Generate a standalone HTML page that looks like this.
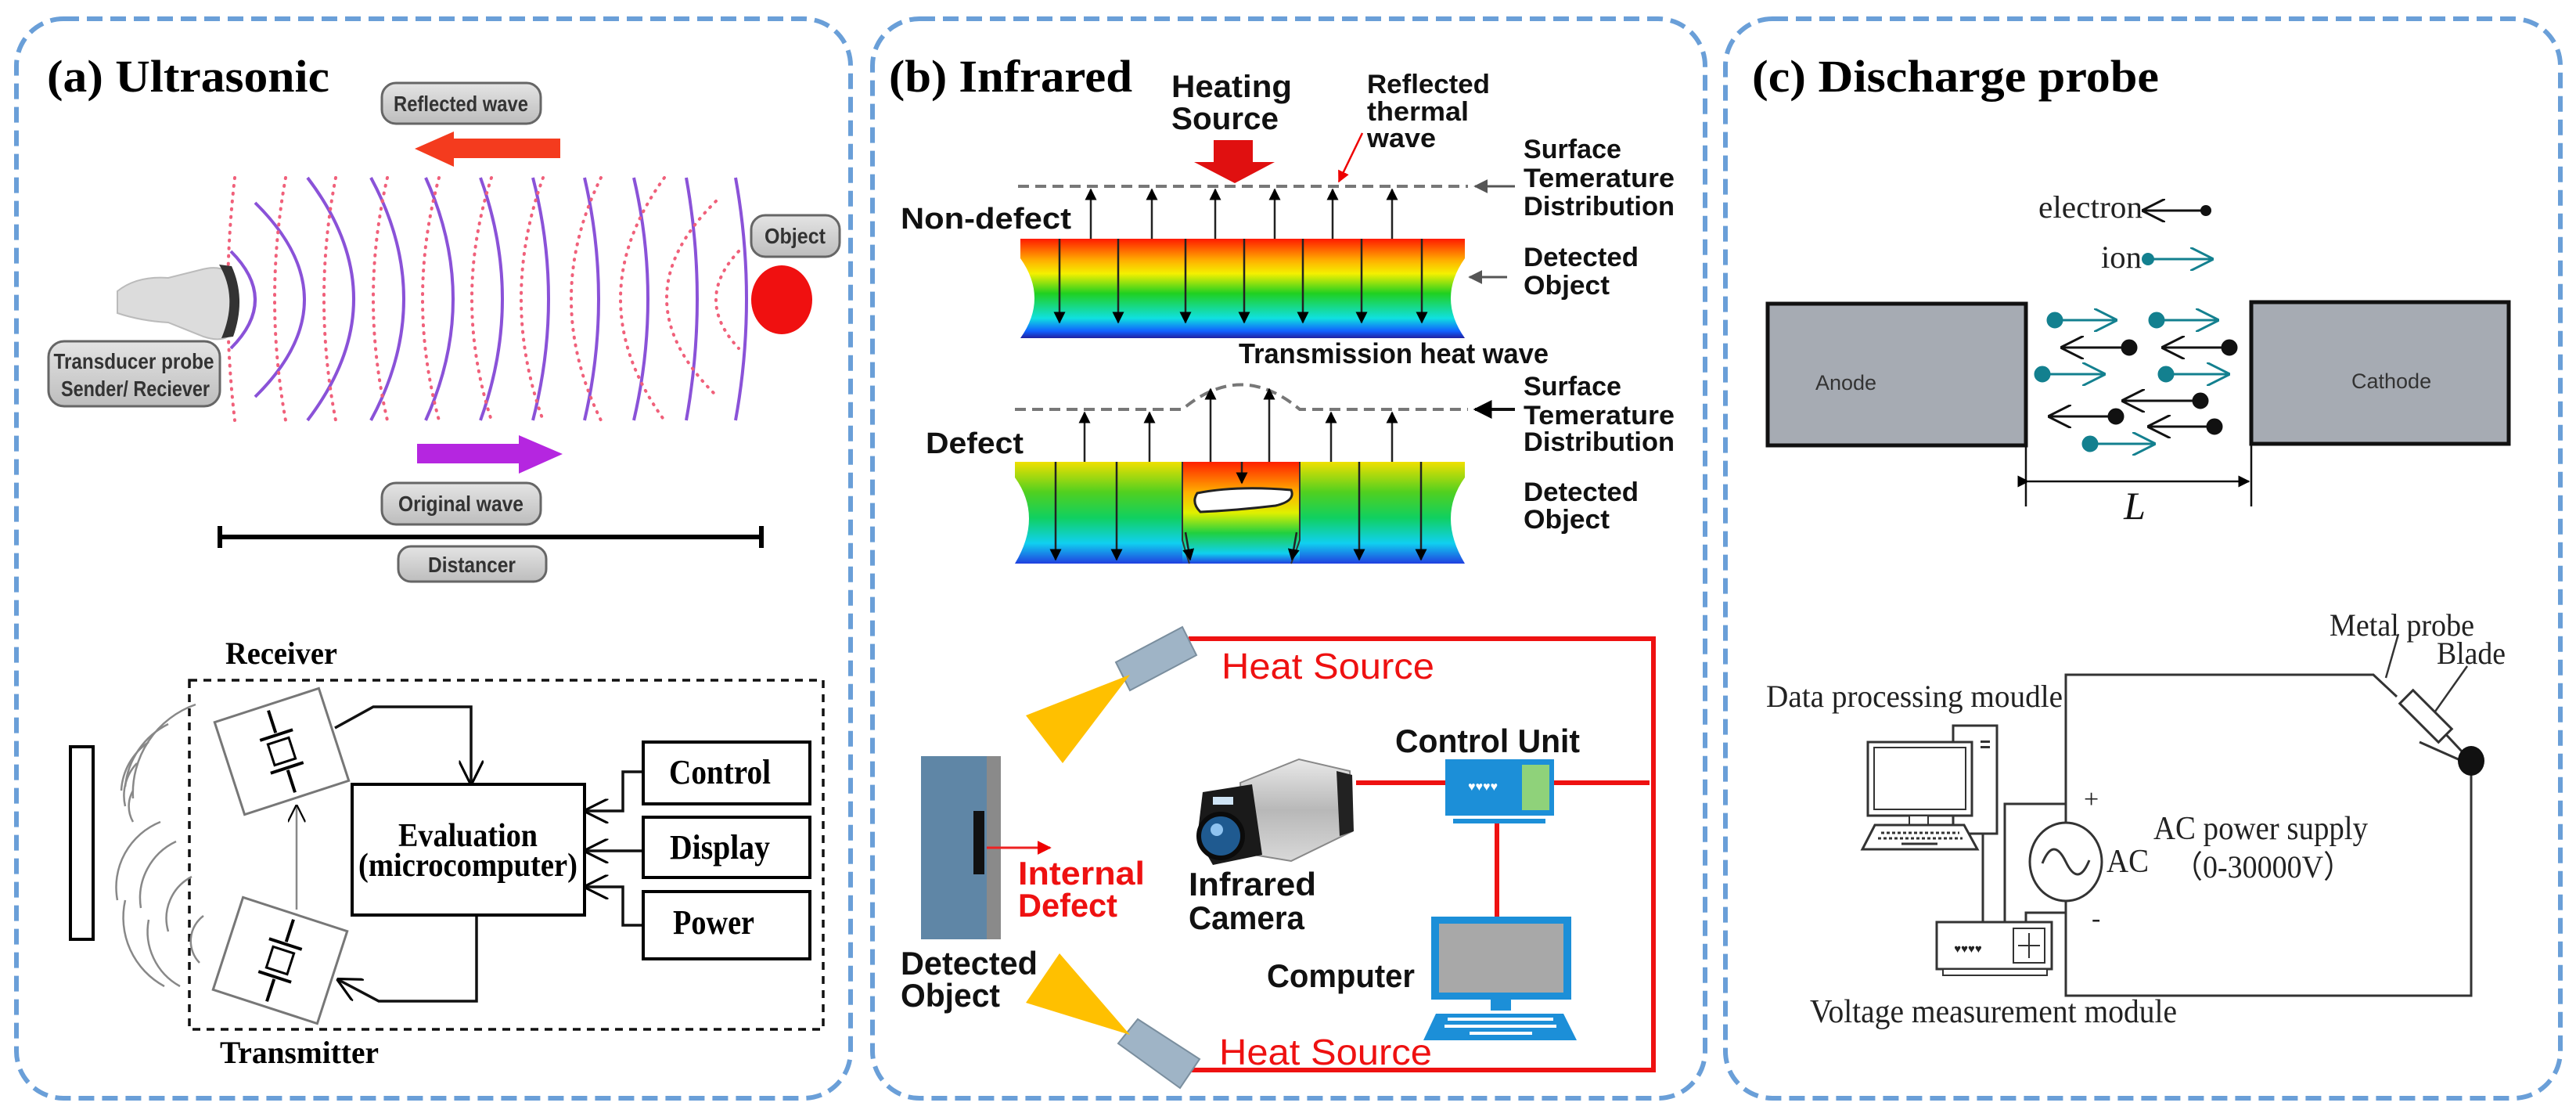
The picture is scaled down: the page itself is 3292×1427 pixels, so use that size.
<!DOCTYPE html>
<html><head><meta charset="utf-8"><style>
html,body{margin:0;padding:0;background:#fff;}
svg{display:block;}
.ser{font-family:"Liberation Serif",serif;}
.san{font-family:"Liberation Sans",sans-serif;}
</style></head><body>
<svg width="3292" height="1427" viewBox="0 0 3292 1427" xmlns="http://www.w3.org/2000/svg">
<defs>
<linearGradient id="g1" x1="0" y1="0" x2="0" y2="1">
<stop offset="0" stop-color="#ff1a00"/><stop offset="0.22" stop-color="#ffb000"/><stop offset="0.35" stop-color="#f5f000"/><stop offset="0.55" stop-color="#20d020"/><stop offset="0.8" stop-color="#10e0e0"/><stop offset="0.93" stop-color="#1060ff"/><stop offset="1" stop-color="#2020a0"/>
</linearGradient>
<linearGradient id="g2" x1="0" y1="0" x2="0" y2="1">
<stop offset="0" stop-color="#f0e000"/><stop offset="0.3" stop-color="#50d020"/><stop offset="0.55" stop-color="#10d060"/><stop offset="0.8" stop-color="#10d0f0"/><stop offset="1" stop-color="#2040e0"/>
</linearGradient>
<linearGradient id="g3" x1="0" y1="0" x2="0" y2="1">
<stop offset="0" stop-color="#ff2000"/><stop offset="0.3" stop-color="#ffb000"/><stop offset="0.5" stop-color="#e0f000"/><stop offset="0.7" stop-color="#20d040"/><stop offset="0.9" stop-color="#10d0f0"/><stop offset="1" stop-color="#2040e0"/>
</linearGradient>
<linearGradient id="pill" x1="0" y1="0" x2="0" y2="1"><stop offset="0" stop-color="#e4e4e4"/><stop offset="1" stop-color="#bdbdbd"/></linearGradient>
<linearGradient id="silver" x1="0" y1="0" x2="0" y2="1"><stop offset="0" stop-color="#e8e8e8"/><stop offset="0.5" stop-color="#b8b8b8"/><stop offset="1" stop-color="#d8d8d8"/></linearGradient>
<marker id="ah" viewBox="0 0 10 10" refX="9" refY="5" markerWidth="6" markerHeight="6" orient="auto"><path d="M0,0 L10,5 L0,10 z" fill="#000"/></marker>
<marker id="ahg" viewBox="0 0 10 10" refX="9" refY="5" markerWidth="6" markerHeight="6" orient="auto"><path d="M0,0 L10,5 L0,10 z" fill="#555"/></marker>
<marker id="ahr" viewBox="0 0 10 10" refX="9" refY="5" markerWidth="6" markerHeight="6" orient="auto"><path d="M0,0 L10,5 L0,10 z" fill="#e00"/></marker>
<marker id="av" viewBox="0 0 10 10" refX="9" refY="5" markerWidth="9" markerHeight="9" orient="auto"><path d="M0,0 L10,5 L0,10" fill="none" stroke="#000" stroke-width="1"/></marker>
<marker id="avt" viewBox="0 0 10 10" refX="9" refY="5" markerWidth="10" markerHeight="10" orient="auto"><path d="M0,0 L10,5 L0,10" fill="none" stroke="#13808f" stroke-width="1"/></marker>
<marker id="avb" viewBox="0 0 10 10" refX="9" refY="5" markerWidth="10" markerHeight="10" orient="auto"><path d="M0,0 L10,5 L0,10" fill="none" stroke="#111" stroke-width="1"/></marker>
</defs>

<g fill="none" stroke="#6a9fd8" stroke-width="6" stroke-dasharray="20 10">
<rect x="21" y="24" width="1066" height="1379" rx="60"/>
<rect x="1115" y="24" width="1064" height="1379" rx="60"/>
<rect x="2205" y="24" width="1067" height="1379" rx="60"/>
</g>

<!-- ===== Panel A ===== -->
<text x="60" y="117" class="ser" font-size="58" font-weight="bold" textLength="361" lengthAdjust="spacingAndGlyphs">(a) Ultrasonic</text>

<rect x="488" y="106" width="203" height="52" rx="18" fill="url(#pill)" stroke="#666" stroke-width="3"/>
<text x="589" y="142" class="san" font-size="28" font-weight="bold" fill="#333" text-anchor="middle" textLength="172" lengthAdjust="spacingAndGlyphs">Reflected wave</text>
<path d="M716,177 L580,177 L580,168 L530,190 L580,213 L580,202 L716,202 Z" fill="#f43b1e"/>

<g fill="none" stroke="#8a52d8" stroke-width="4">
<path d="M295,321 Q357,383 295,445"/>
<path d="M326,259 Q452,383 326,507"/>
<path d="M393,227 Q511,382 393,537"/>
<path d="M474,227 Q558,382 474,537"/>
<path d="M544,227 Q614,382 544,537"/>
<path d="M614,227 Q670,382 614,537"/>
<path d="M681,227 Q721,382 681,537"/>
<path d="M747,227 Q783,382 747,537"/>
<path d="M810,227 Q846,382 810,537"/>
<path d="M877,227 Q905,382 877,537"/>
<path d="M940,227 Q968,382 940,537"/>
</g>
<g fill="none" stroke="#f0607a" stroke-width="4" stroke-dasharray="1 9" stroke-linecap="round">
<path d="M300,227 Q282,382 300,537"/>
<path d="M365,227 Q337,382 365,537"/>
<path d="M429,227 Q399,382 429,537"/>
<path d="M495,227 Q459,382 495,537"/>
<path d="M561,227 Q519,382 561,537"/>
<path d="M628,227 Q578,382 628,537"/>
<path d="M694,227 Q638,382 694,537"/>
<path d="M768,227 Q692,382 768,537"/>
<path d="M849,227 Q737,382 849,537"/>
<path d="M915,257 Q789,381 915,505"/>
<path d="M944,321 Q886,383 944,445"/>
</g>
<path d="M150,372 Q175,352 215,355 L255,345 Q290,335 300,360 L300,420 Q290,440 260,430 L215,412 Q180,410 150,400 Z" fill="#dcdcdc" stroke="#bbb" stroke-width="2"/>
<path d="M280,338 Q305,380 283,432 L298,430 Q315,382 296,340 Z" fill="#333"/>
<rect x="62" y="436" width="219" height="83" rx="20" fill="url(#pill)" stroke="#666" stroke-width="3"/>
<text x="171" y="471" class="san" font-size="28" font-weight="bold" fill="#333" text-anchor="middle" textLength="205" lengthAdjust="spacingAndGlyphs">Transducer probe</text>
<text x="173" y="506" class="san" font-size="28" font-weight="bold" fill="#333" text-anchor="middle" textLength="190" lengthAdjust="spacingAndGlyphs">Sender/ Reciever</text>
<rect x="960" y="275" width="113" height="53" rx="18" fill="url(#pill)" stroke="#666" stroke-width="3"/>
<text x="1016" y="311" class="san" font-size="28" font-weight="bold" fill="#333" text-anchor="middle" textLength="78" lengthAdjust="spacingAndGlyphs">Object</text>
<ellipse cx="999" cy="383" rx="39" ry="44" fill="#f01010"/>
<path d="M533,567 L663,567 L663,556 L719,580 L663,605 L663,592 L533,592 Z" fill="#b526e0"/>
<rect x="488" y="617" width="203" height="53" rx="18" fill="url(#pill)" stroke="#666" stroke-width="3"/>
<text x="589" y="653" class="san" font-size="28" font-weight="bold" fill="#333" text-anchor="middle" textLength="160" lengthAdjust="spacingAndGlyphs">Original wave</text>
<g stroke="#000" stroke-width="6"><line x1="279" y1="686" x2="975" y2="686"/><line x1="281" y1="672" x2="281" y2="700"/><line x1="973" y1="672" x2="973" y2="700"/></g>
<rect x="509" y="698" width="189" height="45" rx="16" fill="url(#pill)" stroke="#666" stroke-width="3"/>
<text x="603" y="731" class="san" font-size="28" font-weight="bold" fill="#333" text-anchor="middle" textLength="112" lengthAdjust="spacingAndGlyphs">Distancer</text>

<text x="288" y="848" class="ser" font-size="40" font-weight="bold" textLength="143" lengthAdjust="spacingAndGlyphs">Receiver</text>
<rect x="242" y="869" width="810" height="446" fill="none" stroke="#111" stroke-width="3.5" stroke-dasharray="10 8"/>
<rect x="90" y="954" width="29" height="246" fill="#fff" stroke="#000" stroke-width="4"/>
<g fill="none" stroke="#888" stroke-width="2.5">
<path d="M250,900 A120,120 0 0 0 170,1020"/>
<path d="M215,925 A100,100 0 0 0 160,1005"/>
<path d="M190,948 A80,80 0 0 0 155,1010"/>
<path d="M175,975 A60,60 0 0 0 160,1030"/>
<path d="M170,1010 A40,40 0 0 0 170,1050"/>
<path d="M205,1050 A90,90 0 0 0 150,1150"/>
<path d="M225,1075 A80,80 0 0 0 180,1160"/>
<path d="M245,1120 A60,60 0 0 0 215,1190"/>
<path d="M160,1150 A100,100 0 0 0 210,1260"/>
<path d="M190,1175 A80,80 0 0 0 230,1260"/>
<path d="M260,1170 A40,40 0 0 0 255,1230"/>
</g>
<g transform="translate(360,960) rotate(-18)">
<rect x="-70" y="-62" width="140" height="124" fill="#fff" stroke="#777" stroke-width="3"/>
<g stroke="#000" stroke-width="4" fill="none"><line x1="0" y1="-55" x2="0" y2="-25"/><line x1="-22" y1="-22" x2="22" y2="-22"/><rect x="-14" y="-14" width="28" height="28" stroke-width="3"/><line x1="-22" y1="22" x2="22" y2="22"/><line x1="0" y1="25" x2="0" y2="55"/></g>
</g>
<g transform="translate(358,1227) rotate(18)">
<rect x="-70" y="-62" width="140" height="124" fill="#fff" stroke="#777" stroke-width="3"/>
<g stroke="#000" stroke-width="4" fill="none"><line x1="0" y1="-55" x2="0" y2="-25"/><line x1="-22" y1="-22" x2="22" y2="-22"/><rect x="-14" y="-14" width="28" height="28" stroke-width="3"/><line x1="-22" y1="22" x2="22" y2="22"/><line x1="0" y1="25" x2="0" y2="55"/></g>
</g>
<g fill="none" stroke="#111" stroke-width="3.5">
<path d="M428,930 L477,903 L602,903 L602,1000" marker-end="url(#av)"/>
<path d="M609,1169 L609,1279 L484,1279 L433,1252" marker-end="url(#av)"/>
<path d="M379,1162 L379,1030" stroke="#888" stroke-width="2.5" marker-end="url(#av)"/>
<path d="M822,986 L796,986 L796,1036 L749,1036" marker-end="url(#av)"/>
<path d="M822,1087 L749,1087" marker-end="url(#av)"/>
<path d="M822,1182 L796,1182 L796,1133 L749,1133" marker-end="url(#av)"/>
</g>
<rect x="450" y="1002" width="297" height="167" fill="#fff" stroke="#000" stroke-width="4"/>
<text x="598" y="1081" class="ser" font-size="42" font-weight="bold" text-anchor="middle" textLength="178" lengthAdjust="spacingAndGlyphs">Evaluation</text>
<text x="598" y="1119" class="ser" font-size="42" font-weight="bold" text-anchor="middle" textLength="280" lengthAdjust="spacingAndGlyphs">(microcomputer)</text>
<rect x="822" y="948" width="213" height="79" fill="#fff" stroke="#000" stroke-width="4"/>
<text x="855" y="1001" class="ser" font-size="44" font-weight="bold" textLength="130" lengthAdjust="spacingAndGlyphs">Control</text>
<rect x="822" y="1044" width="213" height="77" fill="#fff" stroke="#000" stroke-width="4"/>
<text x="856" y="1097" class="ser" font-size="44" font-weight="bold" textLength="128" lengthAdjust="spacingAndGlyphs">Display</text>
<rect x="822" y="1139" width="213" height="86" fill="#fff" stroke="#000" stroke-width="4"/>
<text x="860" y="1193" class="ser" font-size="44" font-weight="bold" textLength="104" lengthAdjust="spacingAndGlyphs">Power</text>
<text x="281" y="1358" class="ser" font-size="40" font-weight="bold" textLength="203" lengthAdjust="spacingAndGlyphs">Transmitter</text>

<!-- ===== Panel B ===== -->
<text x="1136" y="117" class="ser" font-size="58" font-weight="bold" textLength="311" lengthAdjust="spacingAndGlyphs">(b) Infrared</text>
<text x="1497" y="124" class="san" font-size="40" font-weight="bold" fill="#111" textLength="154" lengthAdjust="spacingAndGlyphs">Heating</text>
<text x="1497" y="165" class="san" font-size="40" font-weight="bold" fill="#111" textLength="137" lengthAdjust="spacingAndGlyphs">Source</text>
<path d="M1551,179 L1601,179 L1601,207 L1629,207 L1578,234 L1526,207 L1551,207 Z" fill="#e01010"/>
<text x="1747" y="119" class="san" font-size="34" font-weight="bold" fill="#111" textLength="157" lengthAdjust="spacingAndGlyphs">Reflected</text>
<text x="1747" y="154" class="san" font-size="34" font-weight="bold" fill="#111" textLength="130" lengthAdjust="spacingAndGlyphs">thermal</text>
<text x="1747" y="188" class="san" font-size="34" font-weight="bold" fill="#111" textLength="88" lengthAdjust="spacingAndGlyphs">wave</text>
<line x1="1741" y1="170" x2="1711" y2="232" stroke="#e00" stroke-width="2.5" marker-end="url(#ahr)"/>

<g class="san" font-size="34" font-weight="bold" fill="#111">
<text x="1947" y="202" textLength="125" lengthAdjust="spacingAndGlyphs">Surface</text>
<text x="1947" y="239" textLength="193" lengthAdjust="spacingAndGlyphs">Temerature</text>
<text x="1947" y="275" textLength="193" lengthAdjust="spacingAndGlyphs">Distribution</text>
<text x="1947" y="340" textLength="147" lengthAdjust="spacingAndGlyphs">Detected</text>
<text x="1947" y="376" textLength="110" lengthAdjust="spacingAndGlyphs">Object</text>
<text x="1947" y="505" textLength="125" lengthAdjust="spacingAndGlyphs">Surface</text>
<text x="1947" y="542" textLength="193" lengthAdjust="spacingAndGlyphs">Temerature</text>
<text x="1947" y="576" textLength="193" lengthAdjust="spacingAndGlyphs">Distribution</text>
<text x="1947" y="640" textLength="147" lengthAdjust="spacingAndGlyphs">Detected</text>
<text x="1947" y="675" textLength="110" lengthAdjust="spacingAndGlyphs">Object</text>
</g>
<text x="1151" y="292" class="san" font-size="38" font-weight="bold" fill="#111" textLength="218" lengthAdjust="spacingAndGlyphs">Non-defect</text>
<text x="1183" y="579" class="san" font-size="38" font-weight="bold" fill="#111" textLength="125" lengthAdjust="spacingAndGlyphs">Defect</text>
<text x="1583" y="464" class="san" font-size="36" font-weight="bold" fill="#111" textLength="396" lengthAdjust="spacingAndGlyphs">Transmission heat wave</text>

<line x1="1301" y1="238" x2="1876" y2="238" stroke="#777" stroke-width="4" stroke-dasharray="14 8"/>
<line x1="1936" y1="238" x2="1885" y2="238" stroke="#555" stroke-width="3" marker-end="url(#ahg)"/>
<path d="M1304,305 H1872 V330 Q1836,381 1872,432 H1304 Q1340,381 1304,330 Z" fill="url(#g1)"/>
<g stroke="#222" stroke-width="2.5" fill="none">
<line x1="1394" y1="305" x2="1394" y2="242" marker-end="url(#ah)"/>
<line x1="1472" y1="305" x2="1472" y2="242" marker-end="url(#ah)"/>
<line x1="1553" y1="305" x2="1553" y2="242" marker-end="url(#ah)"/>
<line x1="1629" y1="305" x2="1629" y2="242" marker-end="url(#ah)"/>
<line x1="1703" y1="305" x2="1703" y2="242" marker-end="url(#ah)"/>
<line x1="1779" y1="305" x2="1779" y2="242" marker-end="url(#ah)"/>
<line x1="1354" y1="305" x2="1354" y2="412" marker-end="url(#ah)"/>
<line x1="1429" y1="305" x2="1429" y2="412" marker-end="url(#ah)"/>
<line x1="1515" y1="305" x2="1515" y2="412" marker-end="url(#ah)"/>
<line x1="1590" y1="305" x2="1590" y2="412" marker-end="url(#ah)"/>
<line x1="1665" y1="305" x2="1665" y2="412" marker-end="url(#ah)"/>
<line x1="1740" y1="305" x2="1740" y2="412" marker-end="url(#ah)"/>
<line x1="1817" y1="305" x2="1817" y2="412" marker-end="url(#ah)"/>
</g>
<line x1="1926" y1="354" x2="1878" y2="354" stroke="#555" stroke-width="3" marker-end="url(#ahg)"/>

<path d="M1297,523 H1511 Q1586,460 1661,523 H1876" fill="none" stroke="#777" stroke-width="4" stroke-dasharray="14 8"/>
<line x1="1936" y1="523" x2="1885" y2="523" stroke="#111" stroke-width="4" marker-end="url(#ah)"/>
<path d="M1297,590 H1872 V610 Q1836,660 1872,720 H1297 Q1333,660 1297,610 Z" fill="url(#g2)"/>
<rect x="1511" y="590" width="150" height="130" fill="url(#g3)"/>
<path d="M1511,590 V690 Q1515,705 1520,720 M1661,590 V690 Q1656,705 1650,720" fill="none" stroke="#333" stroke-width="2"/>
<path d="M1530,630 Q1580,620 1650,626 Q1656,640 1630,646 Q1580,652 1534,654 Q1522,642 1530,630 Z" fill="#fff" stroke="#222" stroke-width="3"/>
<g stroke="#222" stroke-width="2.5" fill="none">
<line x1="1386" y1="590" x2="1386" y2="527" marker-end="url(#ah)"/>
<line x1="1469" y1="590" x2="1469" y2="527" marker-end="url(#ah)"/>
<line x1="1547" y1="590" x2="1547" y2="497" marker-end="url(#ah)"/>
<line x1="1622" y1="590" x2="1622" y2="497" marker-end="url(#ah)"/>
<line x1="1701" y1="590" x2="1701" y2="527" marker-end="url(#ah)"/>
<line x1="1779" y1="590" x2="1779" y2="527" marker-end="url(#ah)"/>
<line x1="1349" y1="590" x2="1349" y2="715" marker-end="url(#ah)"/>
<line x1="1427" y1="590" x2="1427" y2="715" marker-end="url(#ah)"/>
<line x1="1587" y1="590" x2="1587" y2="617" marker-end="url(#ah)"/>
<line x1="1515" y1="680" x2="1521" y2="715" marker-end="url(#ah)"/>
<line x1="1657" y1="680" x2="1651" y2="715" marker-end="url(#ah)"/>
<line x1="1737" y1="590" x2="1737" y2="715" marker-end="url(#ah)"/>
<line x1="1816" y1="590" x2="1816" y2="715" marker-end="url(#ah)"/>
</g>

<g stroke="#ee1111" stroke-width="6" fill="none">
<path d="M1519,816 H2113 V1367 H1522"/>
<line x1="1733" y1="1000" x2="1847" y2="1000"/>
<line x1="1986" y1="1000" x2="2108" y2="1000"/>
<line x1="1913" y1="1049" x2="1913" y2="1171"/>
</g>
<polygon points="1426,846 1511,801 1529,837 1444,882" fill="#9fb4c6" stroke="#7a8e9e" stroke-width="2"/>
<polygon points="1444,862 1311,914 1358,975" fill="#ffc000"/>
<polygon points="1429,1333 1454,1302 1533,1353 1508,1390" fill="#9fb4c6" stroke="#7a8e9e" stroke-width="2"/>
<polygon points="1444,1322 1354,1218 1311,1281" fill="#ffc000"/>
<text x="1561" y="867" class="san" font-size="46" fill="#ee1111" textLength="272" lengthAdjust="spacingAndGlyphs">Heat Source</text>
<text x="1558" y="1360" class="san" font-size="46" fill="#ee1111" textLength="272" lengthAdjust="spacingAndGlyphs">Heat Source</text>
<rect x="1177" y="966" width="102" height="234" fill="#5f86a6"/>
<rect x="1261" y="966" width="18" height="234" fill="#8a8a8a"/>
<rect x="1244" y="1036" width="14" height="81" fill="#111"/>
<line x1="1261" y1="1083" x2="1342" y2="1083" stroke="#ee2222" stroke-width="3" marker-end="url(#ahr)"/>
<text x="1301" y="1130" class="san" font-size="42" font-weight="bold" fill="#ee1111" textLength="162" lengthAdjust="spacingAndGlyphs">Internal</text>
<text x="1301" y="1171" class="san" font-size="42" font-weight="bold" fill="#ee1111" textLength="127" lengthAdjust="spacingAndGlyphs">Defect</text>
<text x="1151" y="1245" class="san" font-size="42" font-weight="bold" fill="#111" textLength="175" lengthAdjust="spacingAndGlyphs">Detected</text>
<text x="1151" y="1286" class="san" font-size="42" font-weight="bold" fill="#111" textLength="127" lengthAdjust="spacingAndGlyphs">Object</text>
<polygon points="1585,1000 1660,970 1725,985 1728,1062 1650,1100 1590,1090" fill="url(#silver)" stroke="#888" stroke-width="2"/>
<polygon points="1708,985 1728,990 1730,1062 1712,1068" fill="#222"/>
<polygon points="1537,1012 1600,1002 1613,1092 1550,1105 1530,1070" fill="#1a1a1a"/>
<circle cx="1560" cy="1068" r="28" fill="#1f5a90" stroke="#0b0b0b" stroke-width="6"/>
<circle cx="1555" cy="1060" r="8" fill="#8fc3f0"/>
<rect x="1550" y="1018" width="26" height="10" fill="#cfe4f5"/>
<text x="1519" y="1144" class="san" font-size="42" font-weight="bold" fill="#111" textLength="163" lengthAdjust="spacingAndGlyphs">Infrared</text>
<text x="1519" y="1187" class="san" font-size="42" font-weight="bold" fill="#111" textLength="148" lengthAdjust="spacingAndGlyphs">Camera</text>
<text x="1783" y="961" class="san" font-size="42" font-weight="bold" fill="#111" textLength="236" lengthAdjust="spacingAndGlyphs">Control Unit</text>
<rect x="1847" y="970" width="139" height="72" fill="#1c8fd8"/>
<rect x="1945" y="977" width="35" height="58" fill="#8fd27a"/>
<text x="1895" y="1010" class="san" font-size="16" fill="#fff" text-anchor="middle">♥♥♥♥</text>
<rect x="1857" y="1046" width="118" height="6" fill="#1c8fd8"/>
<rect x="1829" y="1171" width="179" height="106" fill="#1c8fd8"/>
<rect x="1839" y="1180" width="159" height="88" fill="#a8a8a8"/>
<rect x="1905" y="1277" width="26" height="14" fill="#1c8fd8"/>
<polygon points="1835,1295 1998,1295 2015,1329 1819,1329" fill="#1c8fd8"/>
<g fill="#fff"><rect x="1850" y="1300" width="135" height="4"/><rect x="1846" y="1309" width="143" height="4"/><rect x="1878" y="1318" width="80" height="4"/></g>
<text x="1619" y="1261" class="san" font-size="42" font-weight="bold" fill="#111" textLength="189" lengthAdjust="spacingAndGlyphs">Computer</text>

<!-- ===== Panel C ===== -->
<text x="2239" y="117" class="ser" font-size="58" font-weight="bold" textLength="520" lengthAdjust="spacingAndGlyphs">(c) Discharge probe</text>
<text x="2605" y="278" class="ser" font-size="40" fill="#222" textLength="133" lengthAdjust="spacingAndGlyphs">electron</text>
<line x1="2819" y1="269" x2="2740" y2="269" stroke="#111" stroke-width="3" marker-end="url(#avb)"/>
<circle cx="2819" cy="269" r="7" fill="#111"/>
<text x="2685" y="342" class="ser" font-size="40" fill="#222" textLength="52" lengthAdjust="spacingAndGlyphs">ion</text>
<line x1="2745" y1="331" x2="2826" y2="331" stroke="#13808f" stroke-width="3" marker-end="url(#avt)"/>
<circle cx="2745" cy="331" r="8" fill="#13808f"/>
<rect x="2259" y="388" width="330" height="181" fill="#a6abb3" stroke="#111" stroke-width="5"/>
<text x="2320" y="498" class="san" font-size="27" fill="#333">Anode</text>
<rect x="2877" y="386" width="329" height="181" fill="#a6abb3" stroke="#111" stroke-width="5"/>
<text x="3005" y="496" class="san" font-size="27" fill="#333">Cathode</text>
<g stroke="#13808f" stroke-width="3" fill="#13808f">
<line x1="2626" y1="409" x2="2703" y2="409" marker-end="url(#avt)"/><circle cx="2626" cy="409" r="9"/>
<line x1="2756" y1="409" x2="2833" y2="409" marker-end="url(#avt)"/><circle cx="2756" cy="409" r="9"/>
<line x1="2610" y1="478" x2="2688" y2="478" marker-end="url(#avt)"/><circle cx="2610" cy="478" r="9"/>
<line x1="2768" y1="478" x2="2847" y2="478" marker-end="url(#avt)"/><circle cx="2768" cy="478" r="9"/>
<line x1="2671" y1="567" x2="2752" y2="567" marker-end="url(#avt)"/><circle cx="2671" cy="567" r="9"/>
</g>
<g stroke="#111" stroke-width="3" fill="#111">
<line x1="2721" y1="444" x2="2636" y2="444" marker-end="url(#avb)"/><circle cx="2721" cy="444" r="9"/>
<line x1="2849" y1="444" x2="2765" y2="444" marker-end="url(#avb)"/><circle cx="2849" cy="444" r="9"/>
<line x1="2812" y1="512" x2="2714" y2="512" marker-end="url(#avb)"/><circle cx="2812" cy="512" r="9"/>
<line x1="2704" y1="532" x2="2620" y2="532" marker-end="url(#avb)"/><circle cx="2704" cy="532" r="9"/>
<line x1="2830" y1="545" x2="2747" y2="545" marker-end="url(#avb)"/><circle cx="2830" cy="545" r="9"/>
</g>
<g stroke="#111" stroke-width="2.5">
<line x1="2589" y1="569" x2="2589" y2="647"/><line x1="2877" y1="567" x2="2877" y2="647"/>
<line x1="2592" y1="615" x2="2874" y2="615" marker-end="url(#ah)" marker-start="url(#ah)"/>
</g>
<text x="2728" y="663" class="ser" font-size="50" font-style="italic" fill="#111" text-anchor="middle">L</text>

<g fill="none" stroke="#333" stroke-width="3">
<path d="M2640,1051 V862 H3033 L3063,890"/>
<path d="M2640,1151 V1272 H3158 V972"/>
<path d="M2640,1027 H2562 V1180"/>
<path d="M2640,1166 H2589 V1180"/>
<line x1="2534" y1="1065" x2="2534" y2="1180"/>
<line x1="3065" y1="810" x2="3049" y2="866" stroke-width="2.5"/>
<line x1="3153" y1="851" x2="3107" y2="916" stroke-width="2.5"/>
<line x1="3120" y1="932" x2="3148" y2="962"/>
<line x1="3092" y1="948" x2="3146" y2="972"/>
</g>
<g transform="translate(3100,915) rotate(45)"><rect x="-35" y="-12" width="70" height="24" fill="#fff" stroke="#333" stroke-width="3"/></g>
<ellipse cx="3158" cy="972" rx="17" ry="19" fill="#111"/>
<g class="ser" fill="#222">
<text x="2977" y="812" font-size="40" textLength="185" lengthAdjust="spacingAndGlyphs">Metal probe</text>
<text x="3114" y="848" font-size="40" textLength="88" lengthAdjust="spacingAndGlyphs">Blade</text>
<text x="2257" y="903" font-size="40" textLength="379" lengthAdjust="spacingAndGlyphs">Data processing moudle</text>
<text x="2692" y="1114" font-size="42" textLength="54" lengthAdjust="spacingAndGlyphs">AC</text>
<text x="2752" y="1072" font-size="42" textLength="274" lengthAdjust="spacingAndGlyphs">AC power supply</text>
<text x="2777" y="1121" font-size="40" textLength="230" lengthAdjust="spacingAndGlyphs">（0-30000V）</text>
<text x="2663" y="1032" font-size="34">+</text>
<text x="2673" y="1184" font-size="34">-</text>
<text x="2313" y="1306" font-size="42" textLength="469" lengthAdjust="spacingAndGlyphs">Voltage measurement module</text>
</g>
<ellipse cx="2640" cy="1101" rx="46" ry="50" fill="#fff" stroke="#333" stroke-width="3"/>
<path d="M2610,1103 Q2624,1068 2640,1101 Q2656,1134 2670,1099" fill="none" stroke="#333" stroke-width="3"/>
<rect x="2496" y="927" width="56" height="138" fill="#fff" stroke="#333" stroke-width="3"/>
<rect x="2531" y="946" width="12" height="3" fill="#333"/><rect x="2531" y="953" width="12" height="3" fill="#333"/>
<rect x="2387" y="948" width="133" height="94" fill="#fff" stroke="#333" stroke-width="3"/>
<rect x="2395" y="955" width="117" height="79" fill="#fff" stroke="#333" stroke-width="2"/>
<rect x="2440" y="1042" width="24" height="12" fill="#fff" stroke="#333" stroke-width="2"/>
<polygon points="2396,1054 2510,1054 2527,1085 2380,1085" fill="#fff" stroke="#333" stroke-width="3"/>
<line x1="2404" y1="1064" x2="2504" y2="1064" stroke="#333" stroke-width="3" stroke-dasharray="4 3"/>
<line x1="2400" y1="1071" x2="2508" y2="1071" stroke="#333" stroke-width="3" stroke-dasharray="4 3"/>
<line x1="2430" y1="1078" x2="2476" y2="1078" stroke="#333" stroke-width="3"/>
<rect x="2475" y="1178" width="147" height="60" fill="#fff" stroke="#333" stroke-width="3"/>
<rect x="2483" y="1238" width="133" height="8" fill="#fff" stroke="#333" stroke-width="2"/>
<text x="2515" y="1217" class="san" font-size="15" fill="#222" text-anchor="middle">♥♥♥♥</text>
<rect x="2573" y="1186" width="40" height="44" fill="#fff" stroke="#333" stroke-width="2"/>
<path d="M2593,1192 V1224 M2579,1208 H2607" stroke="#333" stroke-width="2"/>
</svg>
</body></html>
